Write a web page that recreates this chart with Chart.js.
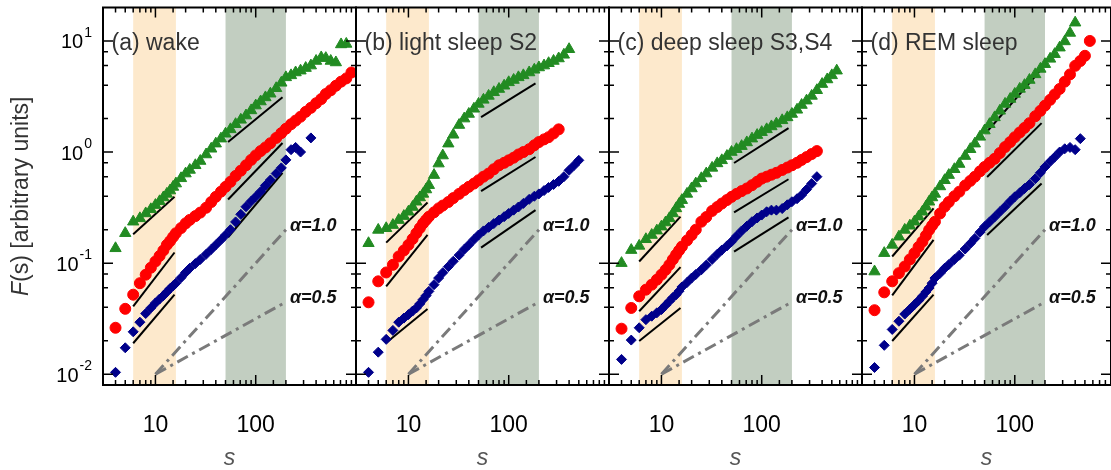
<!DOCTYPE html>
<html>
<head>
<meta charset="utf-8">
<title>DFA fluctuation functions by sleep stage</title>
<script src="https://cdn.jsdelivr.net/npm/chart.js@4.4.1/dist/chart.umd.min.js"></script>
<style>
  html, body { margin: 0; padding: 0; background: #fff; }
  #wrap { position: relative; width: 1111px; height: 470px; overflow: hidden; }
  #wrap canvas { position: absolute; left: 0; top: 0; }
</style>
</head>
<body>
<div id="wrap">
  <canvas id="panel0" width="1120" height="470"></canvas>
  <canvas id="panel1" width="1120" height="470"></canvas>
  <canvas id="panel2" width="1120" height="470"></canvas>
  <canvas id="panel3" width="1120" height="470"></canvas>
</div>
<script>
// window sizes s shared by all series
const sGrid = [4, 5, 6, 7, 8, 9, 10, 11, 12, 13, 14, 15, 16,
  18, 20, 22, 25, 28, 32, 36, 40, 45, 50, 56, 63, 71, 80, 90, 100, 112, 125, 140, 160, 180, 200,
  225, 250, 280, 315, 355, 400, 450, 500, 560, 630, 710, 800, 900];

// (a) wake
const greenWake = [0.136, 0.186, 0.236, 0.253, 0.28, 0.305, 0.333, 0.36, 0.39, 0.42, 0.45, 0.485, 0.52,
  0.58, 0.64, 0.69, 0.76, 0.83, 0.95, 1.07, 1.19, 1.32, 1.46, 1.60, 1.78, 1.95, 2.13, 2.37, 2.62, 2.85, 3.1, 3.35, 3.75, 4.2, 4.7,
  4.9, 5.2, 5.4, 5.7, 6.0, 6.6, 7.1, 7.0, 6.6, 6.4, 9.3, 9.4, null];
const redWake = [0.0262, 0.0388, 0.052, 0.066, 0.0787, 0.091, 0.1035, 0.116, 0.13, 0.146, 0.158, 0.172, 0.186,
  0.207, 0.228, 0.245, 0.265, 0.285, 0.315, 0.355, 0.395, 0.44, 0.486, 0.54, 0.61, 0.68, 0.76, 0.85, 0.933, 1.02, 1.10, 1.20, 1.34, 1.48, 1.62,
  1.78, 1.92, 2.08, 2.3, 2.5, 2.75, 3.0, 3.33, 3.6, 3.95, 4.3, 4.6, 5.2];
const blueWake = [0.0104, 0.0173, 0.0241, 0.0294, 0.0352, 0.0395, 0.0438, 0.0475, 0.051, 0.055, 0.059, 0.0625, 0.066,
  0.074, 0.0824, 0.09, 0.099, 0.108, 0.12, 0.133, 0.146, 0.162, 0.179, 0.20, 0.235, 0.275, 0.322, 0.36, 0.395, 0.44, 0.50, 0.56, 0.64, 0.72, 0.85,
  1.05, 1.1, 1.0, null, 1.34, null, null, null, null, null, null, null, null];

// (b) light sleep S2
const greenLight = [0.151, 0.199, 0.206, 0.220, 0.244, 0.265, 0.29, 0.32, 0.357, 0.39, 0.42, 0.46, 0.503,
  0.62, 0.787, 0.93, 1.19, 1.43, 1.75, 2.0, 2.2, 2.45, 2.71, 2.95, 3.2, 3.45, 3.69, 3.95, 4.24, 4.45, 4.7, 4.9, 5.2, 5.5, 5.77,
  6.0, 6.3, 6.6, 6.95, 7.5, 8.42, null, null, null, null, null, null, null];
const redLight = [0.0444, 0.0686, 0.0824, 0.0966, 0.1148, 0.13, 0.146, 0.165, 0.186, 0.207, 0.228, 0.245, 0.262,
  0.287, 0.311, 0.33, 0.355, 0.385, 0.42, 0.455, 0.486, 0.52, 0.557, 0.60, 0.64, 0.70, 0.76, 0.80, 0.842, 0.89, 0.95, 1.00, 1.06, 1.15, 1.23,
  1.3, 1.36, 1.47, 1.6, null, null, null, null, null, null, null, null, null];
const blueLight = [0.0104, 0.0158, 0.0206, 0.0248, 0.0294, 0.032, 0.0344, 0.037, 0.0395, 0.043, 0.047, 0.051, 0.0557,
  0.064, 0.0734, 0.082, 0.093, 0.104, 0.118, 0.133, 0.146, 0.163, 0.179, 0.195, 0.21, 0.227, 0.244, 0.262, 0.28, 0.30, 0.32, 0.345, 0.375, 0.40, 0.42,
  0.45, 0.48, 0.51, 0.545, 0.60, 0.685, 0.76, 0.842, null, null, null, null, null];

// (c) deep sleep S3,S4
const greenDeep = [0.1, 0.131, 0.143, 0.164, 0.179, 0.196, 0.213, 0.232, 0.253, 0.28, 0.311, 0.34, 0.369,
  0.42, 0.47, 0.52, 0.58, 0.64, 0.72, 0.79, 0.842, 0.92, 1.0, 1.06, 1.13, 1.22, 1.32, 1.42, 1.51, 1.6, 1.7, 1.8, 1.93, 2.05, 2.2,
  2.4, 2.65, 2.9, 3.2, 3.6, 4.09, 4.5, 4.9, 5.4, null, null, null, null];
const redDeep = [0.0257, 0.0395, 0.0503, 0.0577, 0.064, 0.071, 0.0787, 0.087, 0.0966, 0.108, 0.119, 0.13, 0.141,
  0.16, 0.179, 0.2, 0.236, 0.26, 0.295, 0.32, 0.344, 0.37, 0.395, 0.42, 0.445, 0.47, 0.503, 0.54, 0.577, 0.60, 0.625, 0.65, 0.69, 0.725, 0.76,
  0.8, 0.85, 0.9, 0.96, 1.02, null, null, null, null, null, null, null, null];
const blueDeep = [0.0136, 0.0203, 0.0262, 0.031, 0.0333, 0.0357, 0.0382, 0.0418, 0.0454, 0.049, 0.052, 0.056, 0.061,
  0.067, 0.0734, 0.079, 0.087, 0.096, 0.108, 0.12, 0.131, 0.143, 0.156, 0.175, 0.195, 0.215, 0.236, 0.255, 0.271, 0.29, 0.30, 0.30, 0.31, 0.335, 0.357,
  0.38, 0.41, 0.46, 0.52, 0.6, null, null, null, null, null, null, null, null];

// (d) REM sleep
const greenRem = [0.084, 0.123, 0.146, 0.173, 0.199, 0.217, 0.236, 0.262, 0.29, 0.322, 0.357, 0.39, 0.42,
  0.49, 0.557, 0.62, 0.70, 0.78, 0.92, 1.06, 1.19, 1.37, 1.56, 1.78, 2.05, 2.35, 2.71, 3.0, 3.33, 3.7, 4.0, 4.45, 5.0, 5.6, 6.18,
  6.9, 7.6, 8.7, 9.9, 11.8, 14.6, null, null, null, null, null, null, null];
const redRem = [0.0377, 0.0546, 0.0686, 0.0813, 0.0933, 0.108, 0.123, 0.14, 0.156, 0.177, 0.199, 0.218, 0.236,
  0.28, 0.322, 0.355, 0.40, 0.44, 0.50, 0.55, 0.60, 0.67, 0.734, 0.80, 0.87, 0.98, 1.11, 1.23, 1.36, 1.5, 1.65, 1.82, 2.1, 2.35, 2.62,
  2.95, 3.3, 3.7, 4.3, 5.0, 5.97, 6.6, 7.35, 10, null, null, null, null];
const blueRem = [0.0115, 0.0182, 0.0253, 0.030, 0.0348, 0.0385, 0.0423, 0.046, 0.0503, 0.055, 0.0597, 0.066, 0.0734,
  0.081, 0.09, 0.097, 0.108, 0.118, 0.134, 0.15, 0.167, 0.19, 0.213, 0.235, 0.26, 0.29, 0.322, 0.36, 0.395, 0.43, 0.47, 0.51, 0.575, 0.65, 0.734,
  0.82, 0.9, 1.0, 1.07, 1.1, 1.05, 1.32, null, null, null, null, null, null];

// power-law fits: green short/long, red short/long, blue short/long (F at both ends)
const fitShortS = [6, 15.5];
const fitLongS = [53, 185];
const fitWake  = [[0.182, 0.395], [1.229, 3.11], [0.0409, 0.1247], [0.374, 1.205], [0.019, 0.052], [0.171, 0.649]];
const fitLight = [[0.153, 0.352], [2.06, 4.15], [0.0618, 0.1795], [0.445, 0.902], [0.0192, 0.0387], [0.138, 0.30]];
const fitDeep  = [[0.1035, 0.262], [0.797, 1.64], [0.0369, 0.092], [0.286, 0.569], [0.0199, 0.0395], [0.127, 0.258]];
const fitRem   = [[0.1148, 0.311], [1.53, 5.57], [0.0513, 0.162], [0.597, 1.82], [0.0199, 0.052], [0.179, 0.52]];

// reference slopes alpha = 1.0 and alpha = 0.5
const refS = [10, 200];
const refAlpha1 = [0.01, 0.2];
const refAlpha05 = [0.01, 0.0447];

// shaded scale ranges
const bandShort = [6, 16];
const bandLong = [50, 200];

const panelTitles = ['(a) wake', '(b) light sleep S2', '(c) deep sleep S3,S4', '(d) REM sleep'];
const xTickLabels = [10, 100];
const yTickExps = [-2, -1, 0, 1];

const panels = [
  { green: greenWake, red: redWake, blue: blueWake, fits: fitWake },
  { green: greenLight, red: redLight, blue: blueLight, fits: fitLight },
  { green: greenDeep, red: redDeep, blue: blueDeep, fits: fitDeep },
  { green: greenRem, red: redRem, blue: blueRem, fits: fitRem }
];

const FONT = '"Liberation Sans", Arial, Helvetica, sans-serif';
const CANVAS_W = 1120;
const panelLeft = [103, 356, 609, 862];
const panelWidth = [253, 253, 253, 249];
const panelMaxS = [1000, 1000, 1000, 910];
const GREEN = '#228b22', RED = '#ff0000', BLUE = '#00008b';

Chart.defaults.font.family = FONT;

function isDecade(v) {
  const l = Math.log10(v);
  return Math.abs(l - Math.round(l)) < 1e-6;
}

function points(ys) {
  return sGrid.map((s, i) => ys[i] == null ? null : { x: s, y: ys[i] }).filter(Boolean);
}

function segment(xs, ys) {
  return xs.map((x, i) => ({ x: x, y: ys[i] }));
}

const panelDecor = {
  id: 'panelDecor',
  beforeDatasetsDraw(chart) {
    const { ctx, chartArea: a, scales: { x } } = chart;
    ctx.save();
    [[bandShort, '#fde9cc'], [bandLong, '#c2cec1']].forEach(([band, color]) => {
      const x0 = x.getPixelForValue(band[0]);
      const x1 = x.getPixelForValue(band[1]);
      ctx.fillStyle = color;
      ctx.fillRect(x0, a.top, x1 - x0, a.bottom - a.top);
    });
    ctx.restore();
  },
  afterDraw(chart, args, opts) {
    const { ctx, chartArea: a, scales: { x, y } } = chart;
    ctx.save();

    // frame
    ctx.strokeStyle = '#000';
    ctx.lineWidth = 2;
    ctx.strokeRect(a.left, a.top, a.right - a.left, a.bottom - a.top);

    // inward tick marks on every side
    ctx.lineWidth = 1.5;
    ctx.beginPath();
    x.ticks.forEach(t => {
      const px = x.getPixelForValue(t.value);
      if (px <= a.left + 1 || px >= a.right - 1) return;
      const len = isDecade(t.value) ? 10 : 5;
      ctx.moveTo(px, a.bottom); ctx.lineTo(px, a.bottom - len);
      ctx.moveTo(px, a.top); ctx.lineTo(px, a.top + len);
    });
    y.ticks.forEach(t => {
      const py = y.getPixelForValue(t.value);
      if (py <= a.top + 1 || py >= a.bottom - 1) return;
      const len = isDecade(t.value) ? 10 : 5;
      ctx.moveTo(a.left, py); ctx.lineTo(a.left + len, py);
      ctx.moveTo(a.right, py); ctx.lineTo(a.right - len, py);
    });
    ctx.stroke();

    // panel title
    ctx.fillStyle = '#333';
    ctx.font = '23px ' + FONT;
    ctx.textAlign = 'left';
    ctx.textBaseline = 'middle';
    ctx.fillText(opts.title, a.left + 8.5, a.top + 36);

    // slope labels at the end of the reference lines
    ctx.fillStyle = '#111';
    ctx.font = 'italic bold 18px ' + FONT;
    const lx = x.getPixelForValue(refS[1]) + 4;
    ctx.fillText('\u03b1=1.0', lx, y.getPixelForValue(refAlpha1[1]) - 4);
    ctx.fillText('\u03b1=0.5', lx, y.getPixelForValue(refAlpha05[1]) - 4);

    if (opts.yLabels) {
      // decade labels 10^n
      const right = a.left - 11;
      ctx.fillStyle = '#000';
      yTickExps.forEach(e => {
        const py = y.getPixelForValue(Math.pow(10, e));
        const exp = e < 0 ? '-' + (-e) : String(e);
        ctx.font = '14px ' + FONT;
        const ew = ctx.measureText(exp).width;
        ctx.textAlign = 'left';
        ctx.fillText(exp, right - ew, py - 8);
        ctx.font = '20px ' + FONT;
        ctx.textAlign = 'right';
        ctx.fillText('10', right - ew - 1, py + 2);
      });

      // axis title, F in italics
      ctx.save();
      ctx.translate(a.left - 81, (a.top + a.bottom) / 2);
      ctx.rotate(-Math.PI / 2);
      ctx.fillStyle = '#333';
      const rest = '(s) [arbitrary units]';
      ctx.font = 'italic 23px ' + FONT;
      const fw = ctx.measureText('F').width;
      ctx.font = '23px ' + FONT;
      const rw = ctx.measureText(rest).width;
      const x0 = -(fw + rw) / 2;
      ctx.textAlign = 'left';
      ctx.font = 'italic 23px ' + FONT;
      ctx.fillText('F', x0, 0);
      ctx.font = '23px ' + FONT;
      ctx.fillText(rest, x0 + fw, 0);
      ctx.restore();
    }
    ctx.restore();
  }
};

panels.forEach((p, i) => {
  const f = p.fits;
  const fitLine = (xs, ys) => ({
    data: segment(xs, ys), showLine: true, borderColor: '#000', borderWidth: 2,
    pointRadius: 0, order: 1
  });
  const refLine = ys => ({
    data: segment(refS, ys), showLine: true, borderColor: '#7a7a7a', borderWidth: 3,
    borderDash: [12, 5, 3, 5], pointRadius: 0, order: 1
  });

  new Chart(document.getElementById('panel' + i), {
    type: 'scatter',
    data: {
      datasets: [
        { data: points(p.green), pointStyle: 'triangle', pointRadius: 6.5, borderWidth: 1,
          backgroundColor: GREEN, borderColor: GREEN, order: 0 },
        { data: points(p.red), pointStyle: 'circle', pointRadius: 5.5, borderWidth: 1,
          backgroundColor: RED, borderColor: RED, order: 0 },
        { data: points(p.blue), pointStyle: 'rectRot', pointRadius: 5, borderWidth: 1,
          backgroundColor: BLUE, borderColor: BLUE, order: 0 },
        fitLine(fitShortS, f[0]), fitLine(fitLongS, f[1]),
        fitLine(fitShortS, f[2]), fitLine(fitLongS, f[3]),
        fitLine(fitShortS, f[4]), fitLine(fitLongS, f[5]),
        refLine(refAlpha1), refLine(refAlpha05)
      ]
    },
    options: {
      responsive: false,
      animation: false,
      devicePixelRatio: 1,
      events: [],
      layout: {
        padding: { left: panelLeft[i], right: CANVAS_W - panelLeft[i] - panelWidth[i], top: 7, bottom: 0 }
      },
      scales: {
        x: {
          type: 'logarithmic', min: 3, max: panelMaxS[i], position: 'bottom',
          grid: { display: false, drawTicks: false },
          border: { display: false },
          ticks: {
            autoSkip: false, maxRotation: 0, padding: 27, color: '#000',
            font: { size: 23 },
            callback(v) {
              const t = xTickLabels.find(t => Math.abs(v - t) < 1e-6 * t);
              return t ? String(t) : '';
            }
          },
          title: { display: true, text: 's', color: '#555', padding: { top: 0, bottom: -2 },
            font: { size: 23, style: 'italic' } },
          afterFit(scale) {
            scale.height = 85;
            scale.paddingLeft = 0;
            scale.paddingRight = 0;
          }
        },
        y: { type: 'logarithmic', min: 0.008, max: 20, display: false }
      },
      plugins: {
        legend: { display: false },
        tooltip: { enabled: false },
        panelDecor: { title: panelTitles[i], yLabels: i === 0 }
      }
    },
    plugins: [panelDecor]
  });
});
</script>
</body>
</html>
